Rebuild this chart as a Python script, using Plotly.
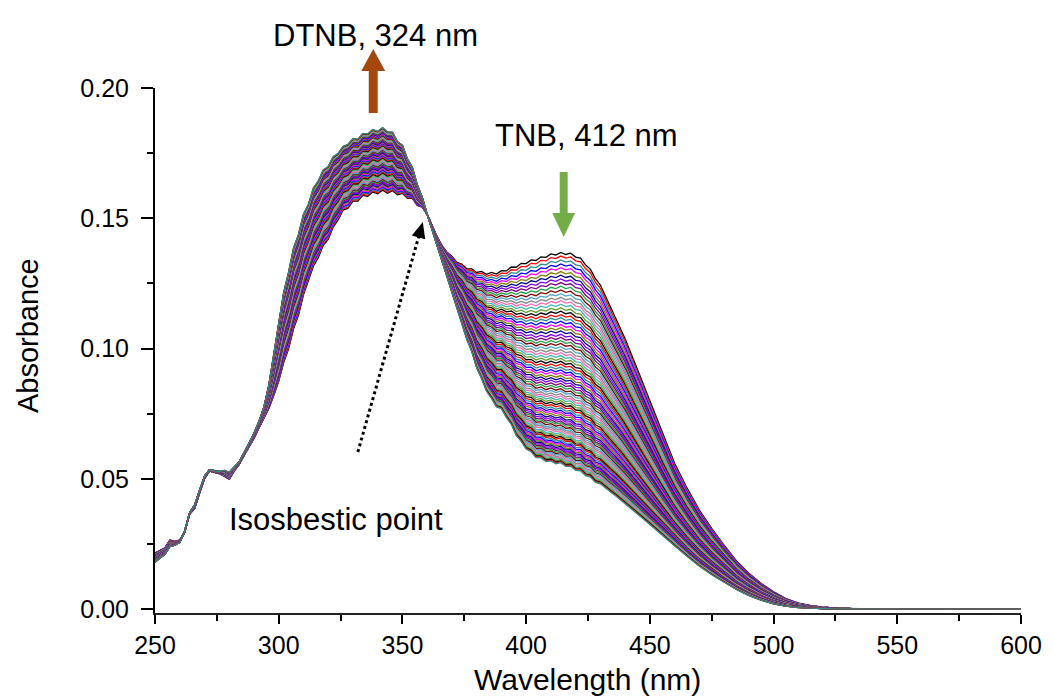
import plotly.graph_objects as go

# Wavelength grid (nm): 2-nm steps through the bands, coarser in the tail
wavelength_nm = list(range(250, 442, 2)) + list(range(445, 545, 5)) + list(range(550, 610, 10))

# First scan (highest TNB band at 412 nm)
abs_first = [
    0.0215, 0.0225, 0.0235, 0.0265, 0.0260, 0.0265, 0.0295, 0.0365, 0.0385, 0.0445,
    0.0500, 0.0530, 0.0525, 0.0520, 0.0510, 0.0498, 0.0530, 0.0555, 0.0590, 0.0620,
    0.0655, 0.0695, 0.0730, 0.0770, 0.0820, 0.0874, 0.0946, 0.0999, 0.1076, 0.1129,
    0.1206, 0.1259, 0.1316, 0.1349, 0.1396, 0.1419, 0.1466, 0.1494, 0.1531, 0.1539,
    0.1566, 0.1566, 0.1588, 0.1584, 0.1601, 0.1594, 0.1608, 0.1596, 0.1606, 0.1590,
    0.1596, 0.1576, 0.1576, 0.1549, 0.1543, 0.1515, 0.1470, 0.1430, 0.1395, 0.1370,
    0.1354, 0.1331, 0.1324, 0.1306, 0.1306, 0.1292, 0.1296, 0.1285, 0.1292, 0.1286,
    0.1299, 0.1298, 0.1313, 0.1312, 0.1327, 0.1326, 0.1340, 0.1338, 0.1352, 0.1350,
    0.1363, 0.1359, 0.1369, 0.1361, 0.1366, 0.1351, 0.1347, 0.1321, 0.1304, 0.1268,
    0.1244, 0.1203, 0.1165, 0.1125, 0.1082, 0.1038,
    0.0920, 0.0800, 0.0675, 0.0560, 0.0465, 0.0380, 0.0310, 0.0245, 0.0185, 0.0138,
    0.0098, 0.0066, 0.0040, 0.0023, 0.0013, 0.0007, 0.0004, 0.0002, 0.0001, 0.0001,
    0.0, 0.0, 0.0, 0.0, 0.0, 0.0,
]

# Last scan (highest DTNB band, lowest 412 nm band)
abs_last = [
    0.0180, 0.0195, 0.0210, 0.0240, 0.0245, 0.0255, 0.0300, 0.0370, 0.0400, 0.0455,
    0.0510, 0.0535, 0.0530, 0.0528, 0.0532, 0.0525, 0.0545, 0.0565, 0.0600, 0.0635,
    0.0675, 0.0720, 0.0775, 0.0860, 0.0980, 0.1094, 0.1216, 0.1294, 0.1386, 0.1439,
    0.1516, 0.1554, 0.1616, 0.1644, 0.1686, 0.1699, 0.1736, 0.1749, 0.1776, 0.1784,
    0.1806, 0.1804, 0.1826, 0.1824, 0.1841, 0.1834, 0.1848, 0.1832, 0.1831, 0.1794,
    0.1781, 0.1729, 0.1696, 0.1629, 0.1581, 0.1515, 0.1455, 0.1395, 0.1335, 0.1275,
    0.1219, 0.1151, 0.1099, 0.1036, 0.0989, 0.0926, 0.0884, 0.0836, 0.0809, 0.0776,
    0.0769, 0.0736, 0.0709, 0.0666, 0.0644, 0.0614, 0.0604, 0.0581, 0.0581, 0.0566,
    0.0569, 0.0558, 0.0562, 0.0548, 0.0549, 0.0532, 0.0531, 0.0512, 0.0507, 0.0486,
    0.0481, 0.0464, 0.0450, 0.0436, 0.0421, 0.0405,
    0.0365, 0.0325, 0.0283, 0.0243, 0.0203, 0.0165, 0.0132, 0.0102, 0.0075, 0.0052,
    0.0034, 0.0020, 0.0011, 0.0006, 0.0003, 0.0002, 0.0001, 0.0001, 0.0, 0.0,
    0.0, 0.0, 0.0, 0.0, 0.0, 0.0,
]

# Absorbance at 412 nm for each successive scan
a412_scans = [
    0.1359, 0.1345, 0.1330, 0.1315, 0.1301, 0.1286, 0.1272, 0.1258, 0.1244, 0.1230,
    0.1216, 0.1202, 0.1188, 0.1175, 0.1162, 0.1148, 0.1135, 0.1122, 0.1110, 0.1097,
    0.1084, 0.1072, 0.1060, 0.1047, 0.1035, 0.1023, 0.1012, 0.1000, 0.0988, 0.0977,
    0.0966, 0.0955, 0.0944, 0.0933, 0.0922, 0.0911, 0.0901, 0.0890, 0.0880, 0.0870,
    0.0860, 0.0850, 0.0840, 0.0831, 0.0821, 0.0812, 0.0803, 0.0794, 0.0785, 0.0776,
    0.0767, 0.0758, 0.0750, 0.0742, 0.0733, 0.0725, 0.0717, 0.0710, 0.0702, 0.0694,
    0.0687, 0.0680, 0.0672, 0.0665, 0.0658, 0.0652, 0.0645, 0.0638, 0.0632, 0.0626,
    0.0620, 0.0614, 0.0608, 0.0602, 0.0596, 0.0591, 0.0585, 0.0580, 0.0575, 0.0570,
    0.0565, 0.0561, 0.0558,
]

line_colors = [
    "#000000", "#FF0000", "#2E8B8B", "#0000FF", "#FF00FF", "#808000", "#000080", "#8000FF",
    "#800080", "#20A040", "#800000", "#4FA3D1", "#888888", "#FF69B4", "#3FB8B0", "#6A9A2A",
]

FONT = "Liberation Sans, Arial, sans-serif"

i412 = wavelength_nm.index(412)
f412, l412 = abs_first[i412], abs_last[i412]

fig = go.Figure()
for k, a in enumerate(a412_scans):
    w = (a - l412) / (f412 - l412)
    spectrum = [l + w * (f - l) for f, l in zip(abs_first, abs_last)]
    fig.add_trace(go.Scatter(
        x=wavelength_nm, y=spectrum, mode="lines",
        line=dict(color=line_colors[k % len(line_colors)], width=1.3),
        hoverinfo="skip", showlegend=False,
    ))

# Plot-area geometry in pixels, used to place the arrows and labels
PL, PR, PT, PB = 155, 1028, 88, 613


def px(x):
    return (x - PL) / (PR - PL)


def py(y):
    return (PB - y) / (PB - PT)


def polygon(points):
    return "M " + " L ".join(f"{px(x):.5f},{py(y):.5f}" for x, y in points) + " Z"


def block_arrow(cx, y_tail, y_base, y_tip, shaft_hw, head_hw):
    return polygon([
        (cx - shaft_hw, y_tail), (cx - shaft_hw, y_base), (cx - head_hw, y_base),
        (cx, y_tip), (cx + head_hw, y_base), (cx + shaft_hw, y_base), (cx + shaft_hw, y_tail),
    ])


# dotted pointer towards the isosbestic point
tail = (359.5, 452.0)
tip = (425.0, 222.0)
dx, dy = tip[0] - tail[0], tip[1] - tail[1]
ln = (dx * dx + dy * dy) ** 0.5
ux, uy = dx / ln, dy / ln
head_len, head_hw = 16.0, 7.0
bx, by = tip[0] - head_len * ux, tip[1] - head_len * uy

shapes = [
    dict(type="path", xref="paper", yref="paper", line=dict(width=0), fillcolor="#A5480D",
         path=block_arrow(375, 113, 71, 49, 4.5, 12)),
    dict(type="path", xref="paper", yref="paper", line=dict(width=0), fillcolor="#72AD47",
         path=block_arrow(567, 172, 213, 237, 4.0, 11.5)),
    dict(type="line", xref="paper", yref="paper",
         x0=px(tail[0]), y0=py(tail[1]), x1=px(bx + 2 * ux), y1=py(by + 2 * uy),
         line=dict(color="black", width=3, dash="dot")),
    dict(type="path", xref="paper", yref="paper", line=dict(width=0), fillcolor="black",
         path=polygon([(bx - head_hw * uy, by + head_hw * ux), tip, (bx + head_hw * uy, by - head_hw * ux)])),
]

annotations = [
    dict(text="DTNB, 324 nm", x=px(377), y=py(35), xref="paper", yref="paper",
         showarrow=False, xanchor="center", yanchor="middle", font=dict(family=FONT, size=31, color="black")),
    dict(text="TNB, 412 nm", x=px(590), y=py(135), xref="paper", yref="paper",
         showarrow=False, xanchor="center", yanchor="middle", font=dict(family=FONT, size=31, color="black")),
    dict(text="Isosbestic point", x=px(337), y=py(519), xref="paper", yref="paper",
         showarrow=False, xanchor="center", yanchor="middle", font=dict(family=FONT, size=31, color="black")),
    dict(text="Wavelength (nm)", x=px(591), y=py(679), xref="paper", yref="paper",
         showarrow=False, xanchor="center", yanchor="middle", font=dict(family=FONT, size=30, color="black")),
    dict(text="Absorbance", x=px(27), y=py(336), xref="paper", yref="paper", textangle=-90,
         showarrow=False, xanchor="center", yanchor="middle", font=dict(family=FONT, size=29, color="black")),
]

fig.update_layout(
    width=1054, height=697,
    margin=dict(l=PL, r=1054 - PR, t=PT, b=697 - PB, pad=0),
    paper_bgcolor="white", plot_bgcolor="white",
    font=dict(family=FONT, color="black"),
    shapes=shapes, annotations=annotations,
    xaxis=dict(
        range=[250, 600], tickmode="array", tickvals=[250, 300, 350, 400, 450, 500, 550, 600],
        ticks="outside", ticklen=9, tickwidth=2, tickcolor="black",
        showline=True, linecolor="#222222", linewidth=2, showgrid=False, zeroline=False,
        tickfont=dict(family=FONT, size=25, color="black"), ticklabelstandoff=0,
        minor=dict(tickmode="array", tickvals=[275, 325, 375, 425, 475, 525, 575],
                   ticks="outside", ticklen=6, tickwidth=2, tickcolor="black", showgrid=False),
    ),
    yaxis=dict(
        range=[-0.0015, 0.2], tickmode="array", tickvals=[0, 0.05, 0.10, 0.15, 0.20],
        ticktext=["0.00", "0.05", "0.10", "0.15", "0.20"],
        ticks="outside", ticklen=12, tickwidth=2, tickcolor="black",
        showline=True, linecolor="black", linewidth=2, showgrid=False, zeroline=False,
        tickfont=dict(family=FONT, size=25, color="black"), ticklabelstandoff=7,
        minor=dict(tickmode="array", tickvals=[0.025, 0.075, 0.125, 0.175],
                   ticks="outside", ticklen=6, tickwidth=2, tickcolor="black", showgrid=False),
    ),
)

fig.write_html("out.html")
